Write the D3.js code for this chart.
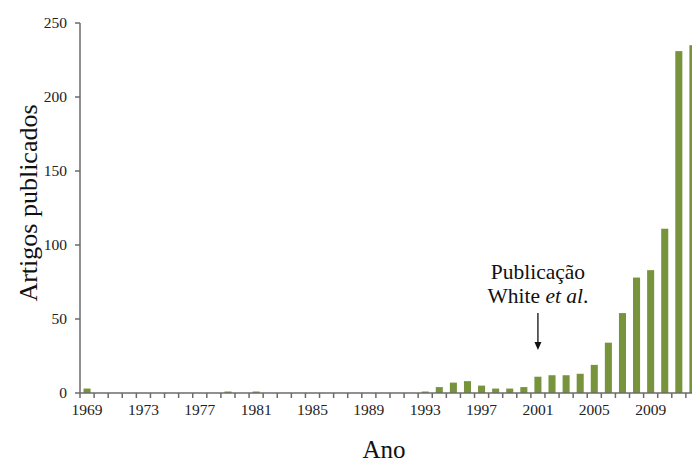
<!DOCTYPE html>
<html><head><meta charset="utf-8">
<script src="https://cdn.jsdelivr.net/npm/d3@7"></script>
<style>body{margin:0;background:#fff}svg{display:block}</style>
</head><body><svg id="c" width="692" height="465" font-family="'Liberation Serif', Tinos, 'Times New Roman', 'DejaVu Serif', serif"></svg>
<script>
const years = d3.range(1969, 2013);
const values = [3,0,0,0,0,0,0,0,0,0,1,0,1,0,0,0,0,0,0,0,0,0,0,0,1,4,7,8,5,3,3,4,11,12,12,13,19,34,54,78,83,111,231,235];
const yTicks = [0,50,100,150,200,250];
const xTickLabels = [1969,1973,1977,1981,1985,1989,1993,1997,2001,2005,2009];
const yTitle = "Artigos publicados";
const xTitle = "Ano";

const svg = d3.select("#c");
const x0 = 80, x1 = 80 + 44*14.09;
const x = d3.scaleBand().domain(years).range([x0, x1]).paddingInner(0.5).paddingOuter(0.25);
const y = d3.scaleLinear().domain([0,250]).range([393,23]);
const step = x.step();

svg.selectAll("rect.bar").data(years).join("rect")
  .attr("x", d => x(d)).attr("width", x.bandwidth())
  .attr("y", (d,i) => y(values[i])).attr("height", (d,i) => y(0) - y(values[i]))
  .attr("fill", "#77933C");

const ax = "#6b6b6b";
svg.append("line").attr("x1", x0).attr("x2", x0).attr("y1", y(250)).attr("y2", y(0)).attr("stroke", ax).attr("stroke-width", 1.5);
svg.selectAll("line.yt").data(yTicks).join("line")
  .attr("x1", x0-5).attr("x2", x0).attr("y1", d=>y(d)).attr("y2", d=>y(d)).attr("stroke", ax).attr("stroke-width",1.5);
svg.selectAll("text.yl").data(yTicks).join("text")
  .attr("x", x0-13).attr("y", d=>y(d)+5).attr("text-anchor","end").attr("font-size",15.5).attr("fill","#222").text(d=>d);

svg.append("line").attr("x1", x0).attr("x2", 692).attr("y1", y(0)).attr("y2", y(0)).attr("stroke", ax).attr("stroke-width", 1.5);
const bounds = d3.range(0, 45).map(i => x0 + i*step);
svg.selectAll("line.xt").data(bounds).join("line")
  .attr("x1", d=>d).attr("x2", d=>d).attr("y1", y(0)).attr("y2", y(0)+5).attr("stroke", ax).attr("stroke-width",1.5);
svg.selectAll("text.xl").data(xTickLabels).join("text")
  .attr("x", d => x(d) + x.bandwidth()/2).attr("y", 415).attr("text-anchor","middle").attr("font-size",15.5).attr("fill","#222").text(d=>d);

svg.append("text").attr("transform","translate(37,203) rotate(-90)").attr("text-anchor","middle").attr("font-size",26).attr("fill","#111").text(yTitle);
svg.append("text").attr("x", 384).attr("y", 458).attr("text-anchor","middle").attr("font-size",25).attr("fill","#111").text(xTitle);

const ax2001 = x(2001) + x.bandwidth()/2;
svg.append("text").attr("x", ax2001).attr("y", 279).attr("text-anchor","middle").attr("font-size",21.5).attr("fill","#111").text("Publicação");
const t2 = svg.append("text").attr("x", ax2001).attr("y", 303).attr("text-anchor","middle").attr("font-size",21.5).attr("fill","#111");
t2.append("tspan").text("White ");
t2.append("tspan").attr("font-style","italic").text("et al");
t2.append("tspan").text(".");
svg.append("line").attr("x1", ax2001).attr("x2", ax2001).attr("y1", 313).attr("y2", 343).attr("stroke","#111").attr("stroke-width",1.3);
svg.append("path").attr("d", `M${ax2001-3.5},342 L${ax2001+3.5},342 L${ax2001},350 Z`).attr("fill","#111");
</script></body></html>
